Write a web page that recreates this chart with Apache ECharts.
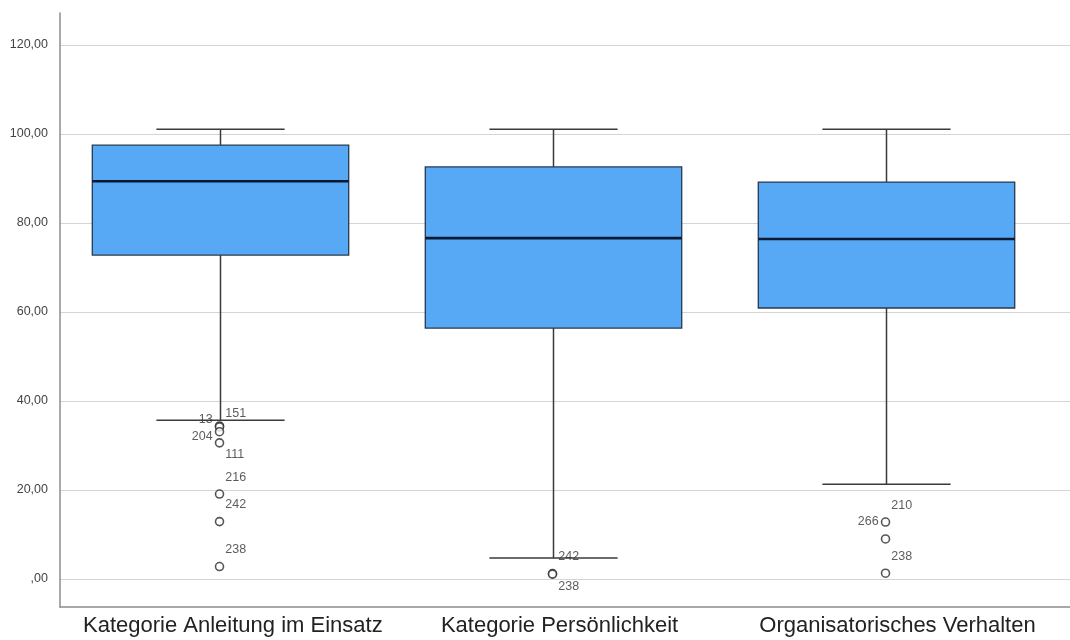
<!DOCTYPE html>
<html>
<head>
<meta charset="utf-8">
<script src="https://cdn.jsdelivr.net/npm/echarts@6/dist/echarts.min.js"></script>
<style>
html,body{margin:0;padding:0;background:#fff;}
#chart{width:1070px;height:640px;}
</style>
</head>
<body>
<div id="chart"></div>
<script>
// ---- data ----
const categories = ['Kategorie Anleitung im Einsatz', 'Kategorie Persönlichkeit', 'Organisatorisches Verhalten'];
const lowerWhisker = [35.7, 4.7, 21.3];
const q1 = [72.8, 56.4, 60.9];
const median = [89.4, 76.6, 76.4];
const q3 = [97.5, 92.6, 89.2];
const upperWhisker = [101.1, 101.1, 101.1];
const outlierCategory = [0, 0, 0, 0, 0, 0, 0, 1, 1, 2, 2, 2];
const outlierValue = [34.4, 34.2, 33.1, 30.6, 19.1, 12.9, 2.8, 1.2, 1.1, 12.8, 9.0, 1.3];
const outlierId = ['151', '13', '204', '111', '216', '242', '238', '242', '238', '210', '266', '238'];
const yTickValues = [0, 20, 40, 60, 80, 100, 120];

// ---- label placement (style only) ----
const outlierLabelStyle = [
  { side: 'right', dy: -12 },
  { side: 'left', dy: -7 },
  { side: 'left', dy: 5 },
  { side: 'right', dy: 12 },
  { side: 'right', dy: -16 },
  { side: 'right', dy: -17 },
  { side: 'right', dy: -17 },
  { side: 'right', dy: -17 },
  { side: 'right', dy: 12 },
  { side: 'right', dy: -17 },
  { side: 'left', dy: -17 },
  { side: 'right', dy: -17 }
];
// category label anchor positions (slightly right of box centres, as in the source)
const categoryLabelPos = [0.04, 1.021, 2.036];

const FONT = '"Liberation Sans", Arial, sans-serif';

const boxData = categories.map((c, i) => [i, lowerWhisker[i], q1[i], median[i], q3[i], upperWhisker[i]]);
const outlierData = outlierValue.map((v, i) => {
  const st = outlierLabelStyle[i];
  return {
    value: [outlierCategory[i], v],
    name: outlierId[i],
    label: {
      position: st.side,
      distance: st.side === 'right' ? 1 : 2,
      offset: [0, st.dy]
    }
  };
});

function renderBox(params, api) {
  const x = api.value(0);
  const lo = api.coord([x, api.value(1)]);
  const a = api.coord([x, api.value(2)]);
  const m = api.coord([x, api.value(3)]);
  const b = api.coord([x, api.value(4)]);
  const hi = api.coord([x, api.value(5)]);
  const bw = api.size([0.77, 0])[0];
  const cw = bw / 2;
  const cx = Math.round(m[0]) + 0.5;
  const whiskerStyle = { stroke: '#3a3a3a', lineWidth: 1.5 };
  return {
    type: 'group',
    children: [
      { type: 'line', shape: { x1: cx, y1: hi[1], x2: cx, y2: b[1] }, style: whiskerStyle },
      { type: 'line', shape: { x1: cx, y1: a[1], x2: cx, y2: lo[1] }, style: whiskerStyle },
      { type: 'line', shape: { x1: cx - cw / 2, y1: hi[1], x2: cx + cw / 2, y2: hi[1] }, style: whiskerStyle },
      { type: 'line', shape: { x1: cx - cw / 2, y1: lo[1], x2: cx + cw / 2, y2: lo[1] }, style: whiskerStyle },
      { type: 'rect', shape: { x: cx - bw / 2, y: b[1], width: bw, height: a[1] - b[1] },
        style: { fill: '#58a9f5', stroke: '#26384e', lineWidth: 1.3 } },
      { type: 'line', shape: { x1: cx - bw / 2, y1: m[1], x2: cx + bw / 2, y2: m[1] },
        style: { stroke: '#0b1a33', lineWidth: 2.6 } }
    ]
  };
}

const chart = echarts.init(document.getElementById('chart'));
chart.setOption({
  animation: false,
  backgroundColor: '#ffffff',
  grid: { left: 60, right: 0, top: 13, bottom: 33, containLabel: false },
  xAxis: {
    type: 'value',
    min: -0.479,
    max: 2.554,
    axisLine: { show: true, onZero: false, lineStyle: { color: '#8c8c8c', width: 1.5 } },
    axisTick: { show: false, customValues: [0, 1, 2] },
    splitLine: { show: false },
    axisLabel: {
      customValues: categoryLabelPos,
      formatter: v => categories[Math.round(v)],
      fontFamily: FONT,
      fontSize: 22,
      color: '#222',
      margin: 8
    }
  },
  yAxis: {
    type: 'value',
    min: -6.29,
    max: 127.2,
    axisLine: { show: true, onZero: false, lineStyle: { color: '#8c8c8c', width: 1.5 } },
    axisTick: { show: false, customValues: yTickValues },
    splitLine: { show: true, lineStyle: { color: '#d4d4d4', width: 1.2 } },
    axisLabel: {
      customValues: yTickValues,
      formatter: v => v === 0 ? ',00' : v.toFixed(2).replace('.', ','),
      fontFamily: FONT,
      fontSize: 12.5,
      color: '#444',
      margin: 12
    }
  },
  series: [
    {
      type: 'custom',
      renderItem: renderBox,
      data: boxData,
      encode: { x: 0, y: [1, 2, 3, 4, 5] },
      z: 2
    },
    {
      type: 'scatter',
      data: outlierData,
      symbol: 'circle',
      symbolSize: 8,
      itemStyle: { color: '#ffffff', borderColor: '#2a2a2a', borderWidth: 1.6 },
      label: {
        show: true,
        formatter: p => p.name,
        fontFamily: FONT,
        fontSize: 12.5,
        color: '#333'
      },
      z: 3
    }
  ]
});
</script>
</body>
</html>
